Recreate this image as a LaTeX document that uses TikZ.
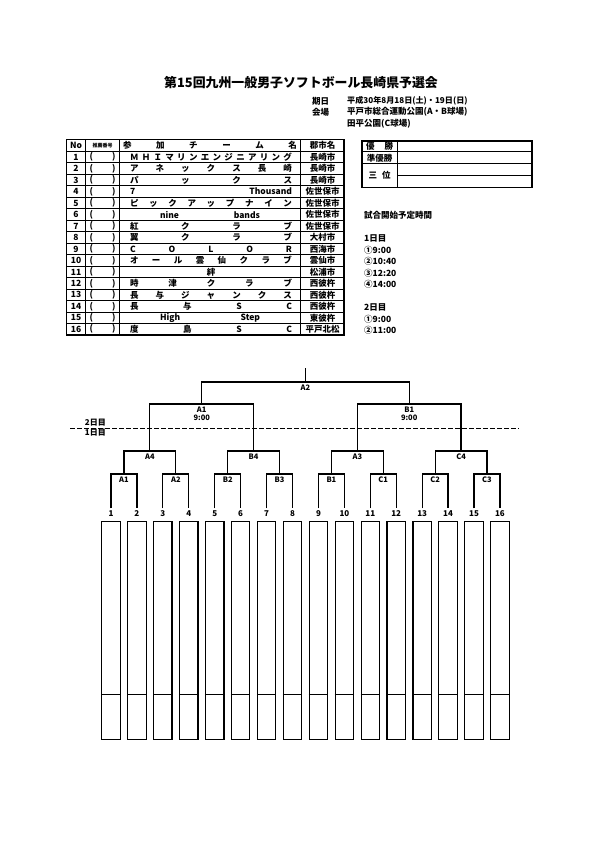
\documentclass[tikz,border=0pt]{standalone}
\usepackage{fontspec}
\setmainfont{Noto Sans CJK JP}
\usetikzlibrary{positioning}

\begin{document}
\begin{tikzpicture}[x=1pt, y=-1pt,
  font=\bfseries\fontsize{8.5}{9}\selectfont,
  txt/.style={inner sep=0pt},
  frame/.style={line width=1.5pt},
  tline/.style={line width=1pt},
  bline/.style={line width=1.2pt},
  dayline/.style={line width=1.2pt, dash pattern=on 4.5pt off 2.5pt},
  lbl/.style={inner sep=0.5pt, font=\bfseries\fontsize{7.5}{8}\selectfont},
  numlbl/.style={inner sep=2.5pt, font=\bfseries\fontsize{8}{8}\selectfont},
  entrybox/.style={draw, line width=1.2pt, minimum width=18.4pt, minimum height=218pt, inner sep=0pt, anchor=north},
]
\useasboundingbox (0,0) rectangle (595,842);

% title and dates
\node (title) at (301,83) {\fontsize{12.9}{13}\selectfont 第15回九州一般男子ソフトボール長崎県予選会};
\node[txt, anchor=west] (datekey) at (312,101) {期日};
\node[txt, anchor=west] (dateval) at (347,101) {\fontsize{8.1}{9}\selectfont 平成30年8月18日(土)・19日(日)};
\node[txt, anchor=west] (venuekey) at (312,112) {会場};
\node[txt, anchor=west] (venueval) at (347,112) {平戸市総合運動公園(A・B球場)};
\node[txt, anchor=west] (venueval2) at (347,124) {田平公園(C球場)};

% entry table
\draw[frame] (66.7,139.5) rectangle (344,335);
\draw[frame] (66.7,151.5) -- (344,151.5);
\foreach \r in {1,...,15} \draw[tline] (66.7,{151.5+11.47*\r}) -- (344,{151.5+11.47*\r});
\foreach \c in {85.5,119.5,300.5} \draw[tline] (\c,139.5) -- (\c,335);

\node (hno) at (76,145.5) {No};
\node[font=\bfseries\fontsize{5}{5}\selectfont] (hrec) at (102.5,145.5) {推薦番号};
\node (hteam) at (210,145.5) {\makebox[174pt][s]{参 加 チ ー ム 名}};
\node (hcity) at (322.5,145.5) {郡市名};

\foreach \team/\city [count=\i] in {
  {Ｍ Ｈ Ｉ マ リ ン エ ン ジ ニ ア リ ン グ}/長崎市,
  {ア ネ ッ ク ス 長 崎}/長崎市,
  {パ ッ ク ス}/長崎市,
  {7 Thousand}/佐世保市,
  {ピ ッ ク ア ッ プ ナ イ ン}/佐世保市,
  {\hspace*{30pt}nine\hfill bands\hspace*{32pt}}/佐世保市,
  {紅 ク ラ ブ}/佐世保市,
  {翼 ク ラ ブ}/大村市,
  {C O L O R}/西海市,
  {オ ー ル 雲 仙 ク ラ ブ}/雲仙市,
  {\hfill 絆\hfill}/松浦市,
  {時 津 ク ラ ブ}/西彼杵,
  {長 与 ジ ャ ン ク ス}/西彼杵,
  {長 与 S C}/西彼杵,
  {\hspace*{30pt}High\hfill Step\hspace*{32pt}}/東彼杵,
  {度 島 S C}/平戸北松}{
  \pgfmathsetmacro\ry{151.5+11.47*(\i-0.5)}
  \node (no\i) at (76,\ry) {\i};
  \node (rec\i) at (102.5,\ry) {\makebox[26pt][s]{(\hfill)}};
  \node (team\i) at (211,\ry) {\makebox[162pt][s]{\team}};
  \node (city\i) at (322.5,\ry) {\city};
}

% results box
\draw[frame] (362,141) rectangle (532,187.5);
\draw[tline] (362,152) -- (532,152);
\draw[tline] (362,163.5) -- (532,163.5);
\draw[tline] (397,175.5) -- (532,175.5);
\draw[tline] (397,141) -- (397,187.5);
\node (win) at (379.5,146.5) {\makebox[27pt][s]{優 勝}};
\node (runner) at (379.5,157.8) {準優勝};
\node (third) at (379.5,175.5) {\makebox[22pt][s]{三 位}};

% start times
\node[txt, anchor=west] (sched) at (364,215) {試合開始予定時間};
\node[txt, anchor=west] (day1) at (364,238) {1日目};
\node[txt, anchor=west] (d1a) at (364,250) {①9:00};
\node[txt, anchor=west] (d1b) at (364,261.5) {②10:40};
\node[txt, anchor=west] (d1c) at (364,273) {③12:20};
\node[txt, anchor=west] (d1d) at (364,284.5) {④14:00};
\node[txt, anchor=west] (day2) at (364,307.5) {2日目};
\node[txt, anchor=west] (d2a) at (364,319) {①9:00};
\node[txt, anchor=west] (d2b) at (364,330.5) {②11:00};

% bracket
\foreach \i in {1,...,16} {
  \node[numlbl] (n\i) at ({111+25.93*(\i-1)},514) {\i};
  \node[entrybox] (b\i) at ({111+25.93*(\i-1)},520.5) {};
  \draw[line width=1.2pt] ([yshift=45.5pt]b\i.south west) -- ([yshift=45.5pt]b\i.south east);
}
\foreach \k/\lab in {1/A1,2/A2,3/B2,4/B3,5/B1,6/C1,7/C2,8/C3} {
  \pgfmathtruncatemacro\ll{2*\k-1}
  \pgfmathtruncatemacro\rr{2*\k}
  \coordinate (r\k) at ({111+25.93*(2*\k-1.5)},474);
  \node[lbl, below=2pt of r\k] (r\k lbl) {\lab};
  \draw[bline] (n\ll.north) |- (r\k) -| (n\rr.north);
}
\foreach \m/\lab in {1/A4,2/B4,3/A3,4/C4} {
  \pgfmathtruncatemacro\ll{2*\m-1}
  \pgfmathtruncatemacro\rr{2*\m}
  \coordinate (q\m) at ({111+25.93*(4*\m-2.5)},451);
  \node[lbl, below=2pt of q\m] (q\m lbl) {\lab};
  \draw[bline] (r\ll) |- (q\m) -| (r\rr);
}
\foreach \j/\lab in {1/A1,2/B1} {
  \pgfmathtruncatemacro\ll{2*\j-1}
  \pgfmathtruncatemacro\rr{2*\j}
  \coordinate (s\j) at ({111+25.93*(8*\j-4.5)},404);
  \node[lbl, below=2pt of s\j] (s\j lbl) {\lab};
  \node[lbl, below=1.5pt of s\j lbl] (s\j time) {9:00};
  \draw[bline] (q\ll) |- (s\j) -| (q\rr);
}
\coordinate (fin) at (305.5,382);
\coordinate (top) at (305.5,368);
\node[lbl, below=2pt of fin] (fin lbl) {A2};
\draw[bline] (s1) |- (fin) -| (s2);
\draw[bline] (fin) -- (top);

% day split
\coordinate (dayL) at (70,428.3);
\coordinate (dayR) at (519,428.3);
\draw[dayline] (dayL) -- (dayR);
\node[txt, anchor=east, font=\bfseries\fontsize{8}{8}\selectfont] (day2lbl) at (106,422.3) {2日目};
\node[txt, anchor=east, font=\bfseries\fontsize{8}{8}\selectfont] (day1lbl) at (106,432.8) {1日目};
\end{tikzpicture}
\end{document}
